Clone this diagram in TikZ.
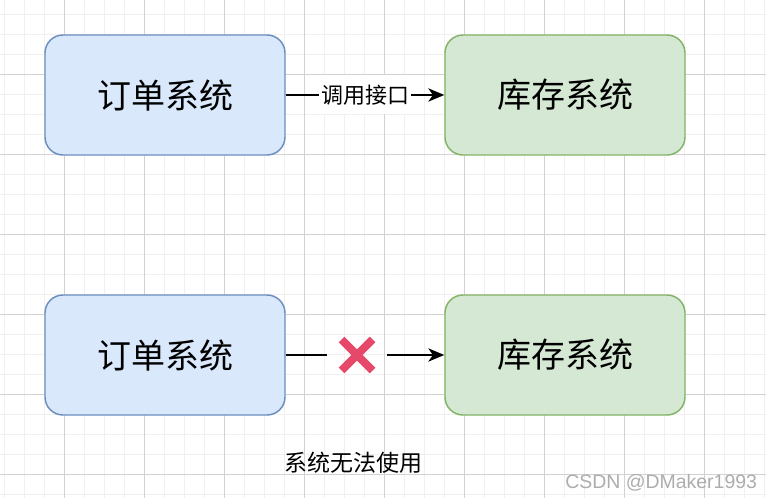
\documentclass[tikz,border=0pt]{standalone}
\usepackage{fontspec}
\newfontfamily\cjk{Noto Sans CJK SC}
\setsansfont{Liberation Sans}
\usetikzlibrary{calc,arrows.meta}
\definecolor{orderfill}{HTML}{DAE8FC}
\definecolor{orderline}{HTML}{6C8EBF}
\definecolor{stockfill}{HTML}{D5E8D4}
\definecolor{stockline}{HTML}{82B366}
\definecolor{gridminor}{HTML}{F0F0F0}
\definecolor{gridmajor}{HTML}{D2D2D2}
\definecolor{crossred}{RGB}{229,72,104}
\definecolor{markgray}{HTML}{ADADAD}
\tikzset{
    sysbox/.style={
        rounded corners=13.5pt, minimum width=180pt, minimum height=90pt,
        line width=1.1pt, font=\cjk\fontsize{25.5}{30}\selectfont
    },
    order/.style={sysbox, fill=orderfill, draw=orderline},
    stock/.style={sysbox, fill=stockfill, draw=stockline},
    link/.style={line width=1.1pt, black},
    tip/.style={-{Stealth[length=12pt,width=10pt,inset=3.5pt]}},
    apilabel/.style={
        fill=white, inner xsep=1.5pt, inner ysep=7pt,
        font=\cjk\fontsize{16.5}{20}\selectfont
    },
    xmark/.style={line width=6pt, crossred},
    minorline/.style={line width=1pt, gridminor},
    majorline/.style={line width=0.8pt, gridmajor}
}

\begin{document}
\begin{tikzpicture}[x=0.75pt,y=-0.75pt]

% --- canvas and grid (pixel units, y downwards) ---
    \useasboundingbox (0,0) rectangle (766,498);
    \fill[white] (0,0) rectangle (766,498);
    \foreach \gx in {4.5,24.5,...,764.5} \draw[minorline] (\gx,0) -- (\gx,498);
    \foreach \gy in {14.5,34.5,...,494.5} \draw[minorline] (0,\gy) -- (766,\gy);
    \foreach \gx in {64.5,144.5,...,704.5} \draw[majorline] (\gx,0) -- (\gx,498);
    \foreach \gy in {74.5,154.5,...,474.5} \draw[majorline] (0,\gy) -- (766,\gy);

% normal case: order system calls stock system
    \node[order] (o1) at (165,95) {订单系统};
    \node[stock] (s1) at (565,95) {库存系统};
    \draw[link,tip] (o1) -- node[apilabel] (call) {调用接口} (s1);

% failure case: the call is cut
    \node[order] (o2) at (165,355) {订单系统};
    \node[stock] (s2) at (565,355) {库存系统};
    \node[minimum width=45pt, minimum height=30pt, inner sep=0pt] (cross) at (357,355) {};
    \draw[link] (o2) -- (cross);
    \draw[link,tip] (cross) -- (s2);
    \draw[xmark] ($ (cross) + (-15.5,-15.5) $) -- ($ (cross) + (15.5,15.5) $);
    \draw[xmark] ($ (cross) + (-15.5,15.5) $) -- ($ (cross) + (15.5,-15.5) $);

% caption under the failure case
    \node[font=\cjk\fontsize{17.25}{20}\selectfont] (note) at (353,463) {系统无法使用};
% watermark (bottom right)
    \node[font=\sffamily\fontsize{14.6}{17}\selectfont, text=markgray, anchor=base west, inner sep=0pt] (mark) at (565,488) {CSDN @DMaker1993};

  \end{tikzpicture}
\end{document}
